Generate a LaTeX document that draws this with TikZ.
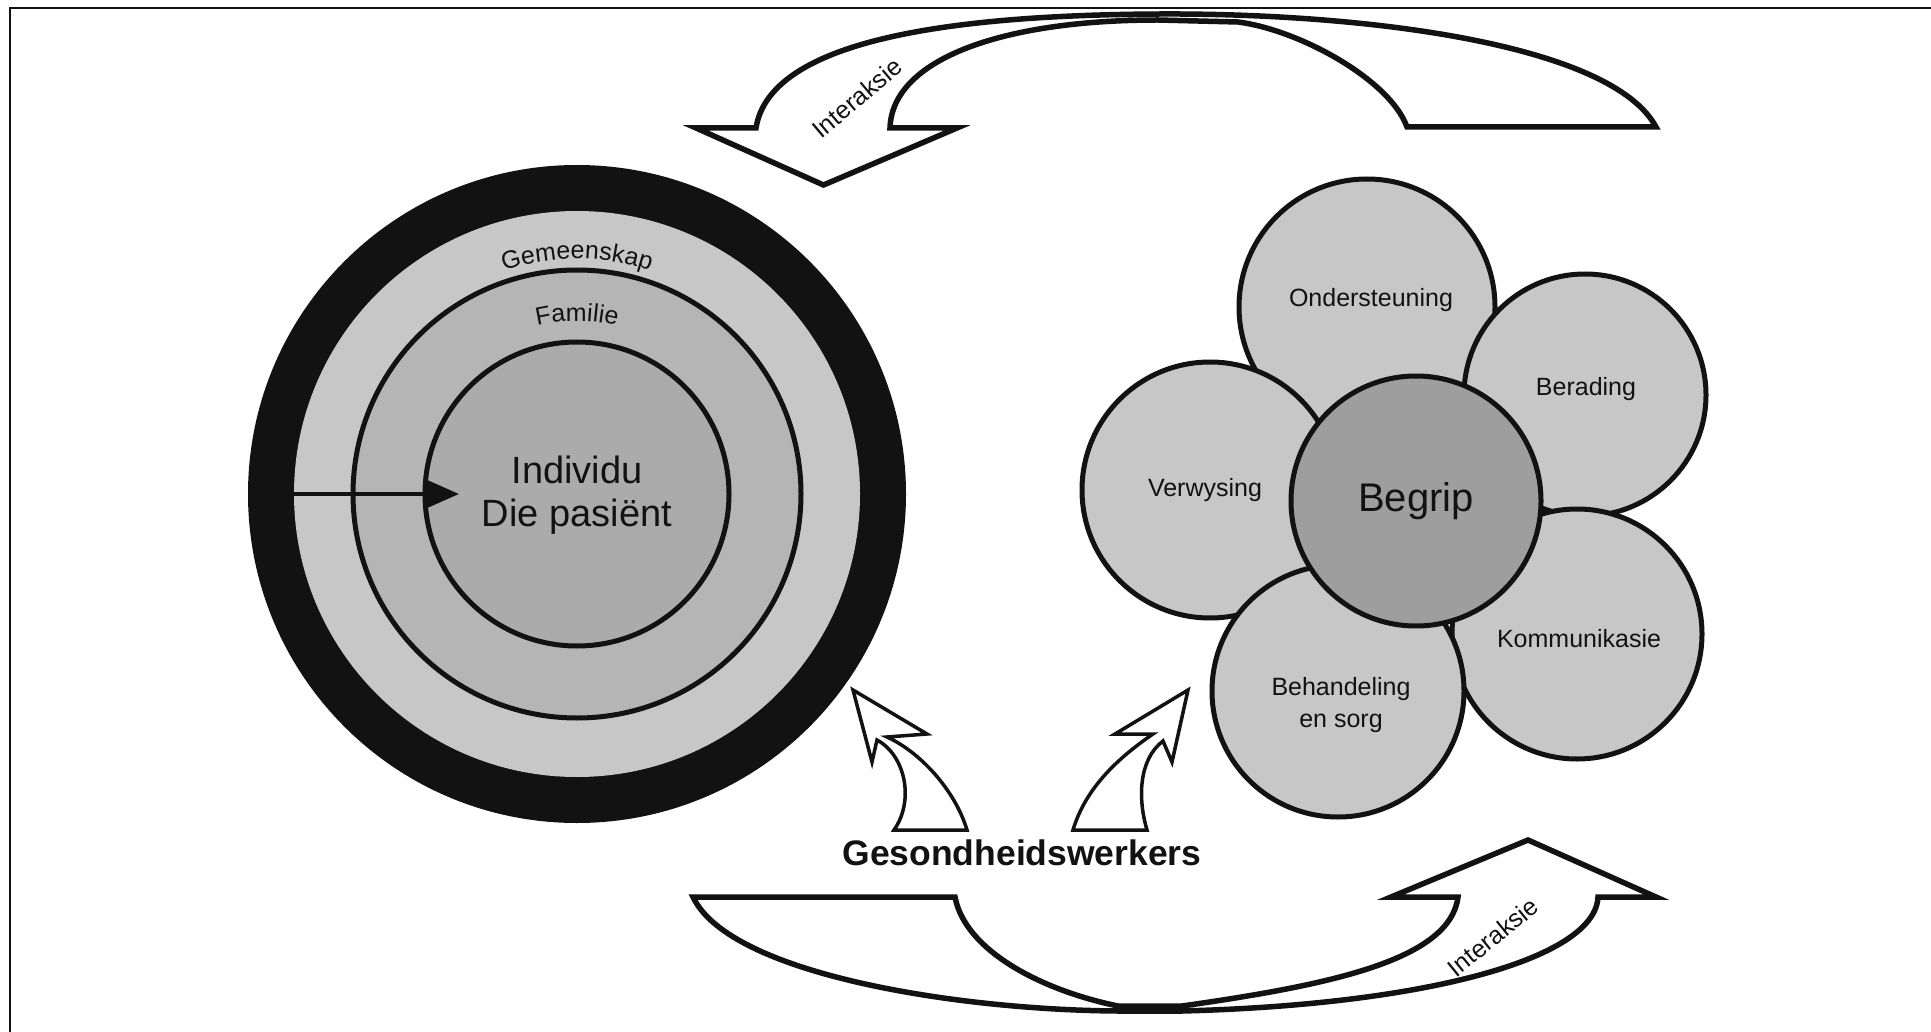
\documentclass[tikz,border=0pt]{standalone}
\usepackage{fontspec}
\setmainfont{Liberation Sans}
\usetikzlibrary{arrows.meta,decorations.text}
\definecolor{ink}{gray}{0.07}
\definecolor{ringA}{gray}{0.78}
\definecolor{ringB}{gray}{0.71}
\definecolor{ringC}{gray}{0.67}
\definecolor{petal}{gray}{0.78}
\definecolor{core}{gray}{0.62}
\begin{document}
\begin{tikzpicture}[x=1pt,y=-1pt,
  disc/.style={circle, inner sep=0pt, outer sep=0pt},
  petalc/.style={disc, draw=ink, line width=5pt, fill=petal},
  lbl/.style={font=\fontsize{25}{30}\selectfont, text=ink, inner sep=0pt},
  big/.style={font=\fontsize{38}{43}\selectfont, align=center, text=ink, inner sep=0pt},
  bigarrow/.style={draw=ink, line width=5.5pt, fill=white, line join=miter, miter limit=12},
  smallarrow/.style={draw=ink, line width=3.5pt, fill=white, line join=miter, miter limit=12}
]
\useasboundingbox (0,0) rectangle (1931,1032);
\fill[white] (0,0) rectangle (1931,1032);
% frame
\draw[ink, line width=2pt] (10,1032) -- (10,8) -- (1931,8);

% ---- concentric circles ----
\node[disc, fill=ink, minimum size=658pt] (outer) at (577,494) {};
\node[disc, fill=ringA, minimum size=566pt] (gem) at (577,494) {};
\node[disc, fill=ringB, draw=ink, line width=5pt, minimum size=448pt] (fam) at (577,494) {};
\node[disc, fill=ringC, draw=ink, line width=5pt, minimum size=304pt] (ind) at (577,494) {};

\path[decorate, decoration={text along path, text color=ink, text align=center,
  text={|\fontsize{25}{30}\selectfont|Gemeenskap}}]
  (577,494) ++(200:235) arc[start angle=200, end angle=340, radius=235];
\path[decorate, decoration={text along path, text color=ink, text align=center,
  text={|\fontsize{25}{30}\selectfont|Familie}}]
  (577,494) ++(220:173) arc[start angle=220, end angle=320, radius=173];

\node[big] (indtxt) at (577,495) {Individu\\Die pasiënt};
\coordinate (tipL) at (459,494);
\draw[ink, line width=4pt, -{Triangle[length=33pt,width=28pt]}] (gem.west) -- (tipL);

% ---- flower ----
\node[petalc, minimum size=256pt] (ond) at (1367,307) {};
\node[petalc, minimum size=242pt] (ber) at (1585,395) {};
\node[petalc, minimum size=250pt] (kom) at (1577,634) {};
\node[petalc, minimum size=256pt] (ver) at (1210,490) {};
\node[petalc, minimum size=252pt] (beh) at (1338,691) {};
\node[disc, draw=ink, line width=5pt, fill=core, minimum size=250pt] (beg) at (1416,501) {};

\node[lbl] (ondtxt) at (1371,300) {Ondersteuning};
\node[lbl] (bertxt) at (1586,389) {Berading};
\node[lbl] (komtxt) at (1579,639) {Kommunikasie};
\node[lbl] (vertxt) at (1205,490) {Verwysing};
\node[lbl, align=center, font=\fontsize{25}{32}\selectfont] (behtxt) at (1341,705) {Behandeling\\en sorg};
\node[text=ink, inner sep=0pt, font=\fontsize{40}{46}\selectfont] (begtxt) at (1416,501) {Begrip};

% ---- Gesondheidswerkers ----
\node[anchor=base, text=ink, inner sep=0pt, font=\bfseries\fontsize{35.5}{40}\selectfont] (gw) at (1022,865) {Gesondheidswerkers};

% small arrows
\draw[smallarrow] (853,690) -- (872,762) -- (877,740)
  .. controls (905,755) and (915,800) .. (894,830) -- (967,830)
  .. controls (955,790) and (920,752) .. (887,737) -- (927,734) -- cycle;
\draw[smallarrow] (1188,690) -- (1115,734) -- (1153,734)
  .. controls (1115,760) and (1085,790) .. (1073,830) -- (1147,830)
  .. controls (1138,800) and (1138,760) .. (1163,741) -- (1172,762) -- cycle;

% ---- top big arrow ----
\draw[bigarrow] (823.5,185) -- (957,128) -- (890,128)
  .. controls (892,60) and (1000,20) .. (1158,20) -- (1238,22)
  .. controls (1300,30) and (1390,80) .. (1407,127) -- (1656,127)
  .. controls (1612,45) and (1370,13) .. (1160,14)
  .. controls (950,15) and (770,40) .. (756,128) -- (696,128) -- cycle;
\node[lbl, rotate=40] (int1) at (857,98) {Interaksie};

% ---- bottom big arrow ----
\draw[bigarrow] (693,897) -- (955,897)
  .. controls (965,950) and (1040,990) .. (1118,1006) -- (1182,1006)
  .. controls (1330,985) and (1450,960) .. (1458,897) -- (1391,897)
  -- (1528,840) -- (1656,897) -- (1598,897)
  .. controls (1595,960) and (1420,1005) .. (1182,1011) -- (1118,1011)
  .. controls (960,1010) and (730,975) .. (693,897) -- cycle;
\node[lbl, rotate=39] (int2) at (1493,937) {Interaksie};
\end{tikzpicture}
\end{document}
